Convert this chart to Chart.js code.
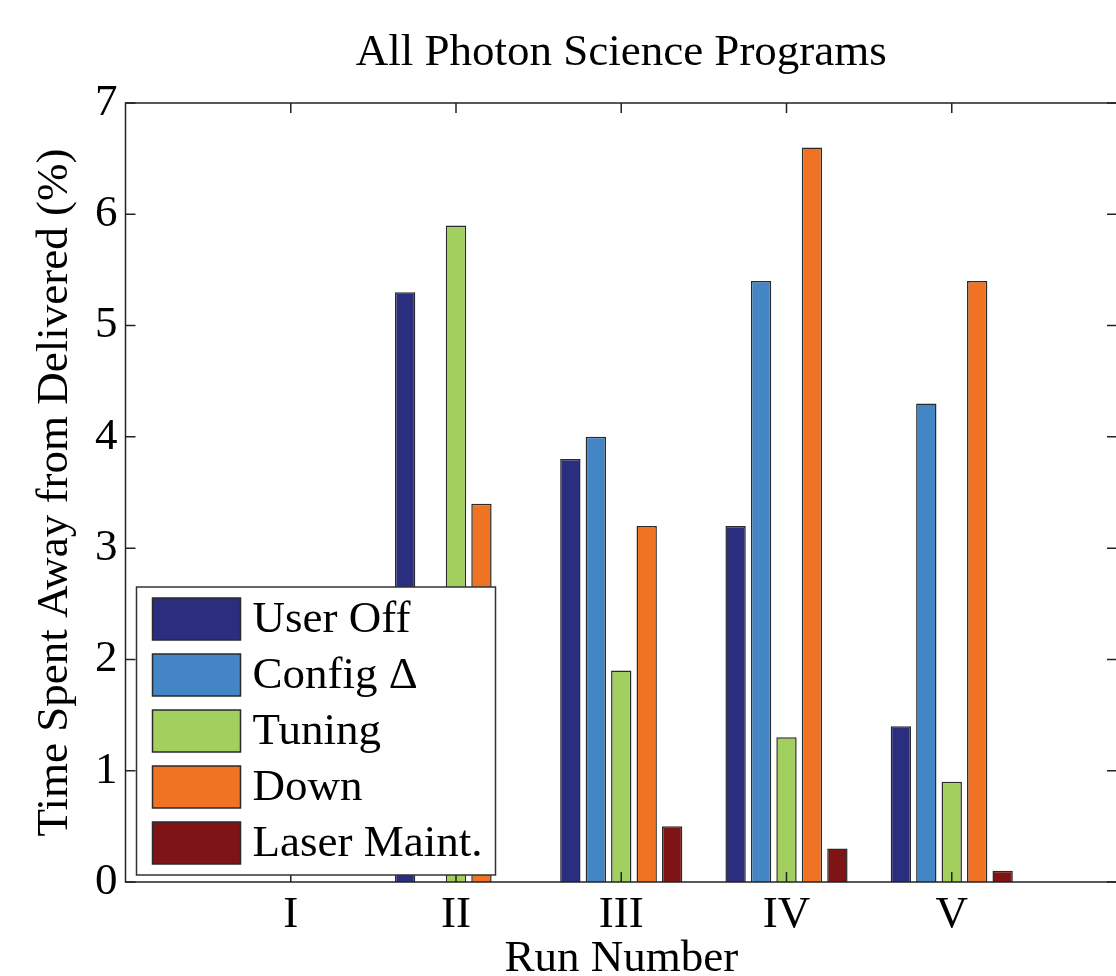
<!DOCTYPE html>
<html>
<head>
<meta charset="utf-8">
<title>All Photon Science Programs</title>
<script src="https://cdn.jsdelivr.net/npm/chart.js@4.4.1/dist/chart.umd.min.js"></script>
<style>
  html, body { margin: 0; padding: 0; background: #fff; overflow: hidden; }
  canvas { display: block; }
</style>
</head>
<body>
<canvas id="runChart" width="1130" height="990"></canvas>
<script>
// values (percent of delivered time)
const runLabels = ['I', 'II', 'III', 'IV', 'V'];
const seriesNames = ['User Off', 'Config \u0394', 'Tuning', 'Down', 'Laser Maint.'];
const seriesColors = ['#2B2D7E', '#4385C5', '#A3CF5F', '#F07323', '#7E1416'];
const userOff = [null, 5.3, 3.8, 3.2, 1.4];
const configChange = [null, 0, 4.0, 5.4, 4.3];
const tuning = [null, 5.9, 1.9, 1.3, 0.9];
const down = [null, 3.4, 3.2, 6.6, 5.4];
const laserMaint = [null, 0, 0.5, 0.3, 0.1];
const yMax = 7;

const seriesValues = [userOff, configChange, tuning, down, laserMaint];
const fontFamily = '"Liberation Serif", "Times New Roman", serif';
const fontSize = 45;

Chart.defaults.font.family = fontFamily;
Chart.defaults.font.size = fontSize;
Chart.defaults.color = '#000';

// empty slots on each side so the axis runs from 0 to 6 like the original
const xLabels = ['', ...runLabels, ''];

const datasets = seriesNames.map((name, i) => ({
  label: name,
  data: [null, ...seriesValues[i], null],
  backgroundColor: seriesColors[i],
  borderColor: '#2a2a2a',
  borderWidth: 1.5,
  categoryPercentage: 0.77,
  barPercentage: 0.8
}));

// box, inward ticks, title and legend drawn MATLAB style
const matlabFrame = {
  id: 'matlabFrame',
  afterDatasetsDraw(chart) {
    const ctx = chart.ctx;
    const ca = chart.chartArea;
    const xs = chart.scales.x;
    const ys = chart.scales.y;
    const tickLen = 10;

    ctx.save();
    ctx.strokeStyle = '#222';
    ctx.lineWidth = 1.5;
    ctx.strokeRect(ca.left, ca.top, ca.right - ca.left, ca.bottom - ca.top);

    ctx.beginPath();
    for (let v = 0; v <= yMax; v++) {
      const y = ys.getPixelForValue(v);
      ctx.moveTo(ca.left, y);
      ctx.lineTo(ca.left + tickLen, y);
      ctx.moveTo(ca.right, y);
      ctx.lineTo(ca.right - tickLen, y);
    }
    runLabels.forEach((lab, i) => {
      const x = xs.getPixelForValue(i + 1);
      ctx.moveTo(x, ca.bottom);
      ctx.lineTo(x, ca.bottom - tickLen);
      ctx.moveTo(x, ca.top);
      ctx.lineTo(x, ca.top + tickLen);
    });
    ctx.stroke();

    // legend, lower left inside the axes
    const boxW = 359, boxH = 288;
    const boxLeft = ca.left + 11;
    const boxTop = ca.bottom - 7 - boxH;
    ctx.fillStyle = '#fff';
    ctx.fillRect(boxLeft, boxTop, boxW, boxH);
    ctx.strokeStyle = '#333';
    ctx.lineWidth = 1.5;
    ctx.strokeRect(boxLeft, boxTop, boxW, boxH);

    ctx.font = fontSize + 'px ' + fontFamily;
    ctx.textBaseline = 'middle';
    ctx.textAlign = 'left';
    chart.data.datasets.forEach((ds, i) => {
      const sy = boxTop + 11 + i * 56;
      ctx.fillStyle = ds.backgroundColor;
      ctx.fillRect(boxLeft + 16, sy, 88, 42);
      ctx.strokeStyle = '#2a2a2a';
      ctx.lineWidth = 1.5;
      ctx.strokeRect(boxLeft + 16, sy, 88, 42);
      ctx.fillStyle = '#000';
      ctx.fillText(ds.label, boxLeft + 116, sy + 22);
    });

    // title centred over the axes
    ctx.textAlign = 'center';
    ctx.fillText('All Photon Science Programs', (ca.left + ca.right) / 2, 53);
    ctx.restore();
  }
};

new Chart(document.getElementById('runChart'), {
  type: 'bar',
  data: {
    labels: xLabels,
    datasets: datasets
  },
  options: {
    responsive: false,
    animation: false,
    layout: {
      padding: { top: 103, right: 13, left: 0, bottom: 0 }
    },
    plugins: {
      legend: { display: false },
      tooltip: { enabled: false },
      title: { display: false }
    },
    scales: {
      x: {
        type: 'category',
        offset: false,
        grid: { display: false, drawTicks: false, offset: false },
        border: { display: false },
        ticks: { padding: 6, maxRotation: 0, autoSkip: false },
        title: {
          display: true,
          text: 'Run Number',
          padding: { top: 0, bottom: 4 }
        },
        afterFit: scale => { scale.height = 108; }
      },
      y: {
        min: 0,
        max: yMax,
        grid: { display: false, drawTicks: false },
        border: { display: false },
        ticks: { stepSize: 1, padding: 8 },
        title: {
          display: true,
          text: 'Time Spent Away from Delivered (%)',
          padding: { top: 28, bottom: 0 }
        },
        afterFit: scale => { scale.width = 125.5; }
      }
    }
  },
  plugins: [matlabFrame]
});
</script>
</body>
</html>
